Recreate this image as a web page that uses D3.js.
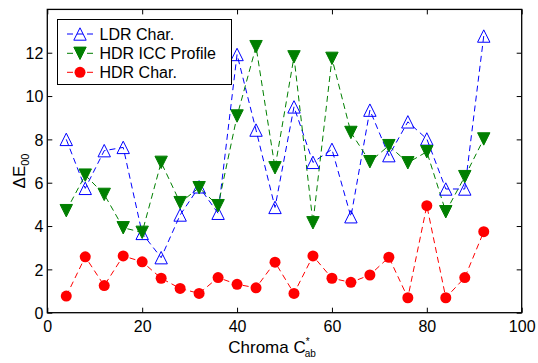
<!DOCTYPE html>
<html><head><meta charset="utf-8">
<script src="https://cdn.jsdelivr.net/npm/d3@7"></script>
<style>
html,body{margin:0;padding:0;background:#fff;}
svg{display:block;font-family:"Liberation Sans",Arial,sans-serif;}
</style></head><body>
<svg id="c" width="538" height="363"></svg>
<script>
const chroma = [4,8,12,16,20,24,28,32,36,40,44,48,52,56,60,64,68,72,76,80,84,88,92];
const ldrChar = [8.0,5.74,7.48,7.63,3.66,2.54,4.51,5.81,4.59,11.92,8.43,4.86,9.5,6.94,7.54,4.43,9.35,7.25,8.81,8.02,5.71,5.71,12.77];
const hdrIcc = [4.71,6.35,5.46,3.92,3.71,6.94,5.08,5.77,4.94,9.08,12.28,6.69,11.81,4.15,11.74,8.32,6.97,7.71,6.92,7.43,4.66,6.28,8.02];
const hdrChar = [0.77,2.58,1.25,2.62,2.35,1.59,1.12,0.89,1.62,1.31,1.15,2.33,0.89,2.62,1.59,1.40,1.74,2.56,0.69,4.94,0.69,1.62,3.74];
const xTicks = [0,20,40,60,80,100];
const yTicks = [0,2,4,6,8,10,12];
const seriesNames = ["LDR Char.","HDR ICC Profile","HDR Char."];

const svg = d3.select("#c");
const L=47.3, R=521.7, T=9.4, B=312.7;
const x = d3.scaleLinear().domain([0,100]).range([L,R]);
const y = d3.scaleLinear().domain([0,14]).range([B,T]);

const series = [
  {name:seriesNames[0], vals:ldrChar, color:"#0000ff", marker:"up"},
  {name:seriesNames[1], vals:hdrIcc, color:"#007f00", marker:"down"},
  {name:seriesNames[2], vals:hdrChar, color:"#ff0000", marker:"circle"}
];

function drawMarker(g, s, cx, cy){
  if(s.marker==="circle"){
    g.append("circle").attr("cx",cx).attr("cy",cy).attr("r",5.5).attr("fill",s.color);
  } else if(s.marker==="up"){
    const h=6.2;
    g.append("path").attr("d",`M${cx},${cy-h}L${cx+h},${cy+h}L${cx-h},${cy+h}Z`)
      .attr("fill","none").attr("stroke",s.color).attr("stroke-width",1);
  } else {
    const h=6.2;
    g.append("path").attr("d",`M${cx},${cy+h}L${cx+h},${cy-h}L${cx-h},${cy-h}Z`)
      .attr("fill",s.color).attr("stroke",s.color).attr("stroke-width",1);
  }
}

// axes
const fs = 16;
const axB = svg.append("g").attr("transform",`translate(0,${B})`)
  .call(d3.axisBottom(x).tickValues(xTicks).tickSizeInner(-5).tickSizeOuter(0).tickPadding(4).tickFormat(d3.format("d")));
const axT = svg.append("g").attr("transform",`translate(0,${T})`)
  .call(d3.axisTop(x).tickValues(xTicks).tickSizeInner(-5).tickSizeOuter(0).tickFormat(""));
const axLft = svg.append("g").attr("transform",`translate(${L},0)`)
  .call(d3.axisLeft(y).tickValues(yTicks).tickSizeInner(-5).tickSizeOuter(0).tickPadding(4).tickFormat(d3.format("d")));
const axRt = svg.append("g").attr("transform",`translate(${R},0)`)
  .call(d3.axisRight(y).tickValues(yTicks).tickSizeInner(-5).tickSizeOuter(0).tickFormat(""));
[axB,axT,axLft,axRt].forEach(a=>{
  a.select(".domain").remove();
  a.selectAll("line").attr("stroke","#000").attr("stroke-width",1);
  a.selectAll("text").attr("font-size",fs).attr("fill","#000").attr("font-family","Liberation Sans, Arial, sans-serif");
});
axB.selectAll("text").attr("dy","0.95em");
axLft.selectAll("text").attr("dy","0.36em");

// series
series.forEach(s=>{
  const line = d3.line().x((d,i)=>x(chroma[i])).y(d=>y(d));
  svg.append("path").datum(s.vals).attr("d",line).attr("fill","none")
    .attr("stroke",s.color).attr("stroke-width",1).attr("stroke-dasharray","6,4");
});
series.forEach(s=>{
  const g = svg.append("g");
  s.vals.forEach((v,i)=>drawMarker(g,s,x(chroma[i]),y(v)));
});

// box
svg.append("rect").attr("x",L).attr("y",T).attr("width",R-L).attr("height",B-T)
  .attr("fill","none").attr("stroke","#000").attr("stroke-width",1.3);

// legend
const lg = svg.append("g");
lg.append("rect").attr("x",57.5).attr("y",19.5).attr("width",174).attr("height",65)
  .attr("fill","#fff").attr("stroke","#000").attr("stroke-width",1);
const rows=[34,53.3,72.3];
series.forEach((s,i)=>{
  lg.append("line").attr("x1",66).attr("x2",94).attr("y1",rows[i]).attr("y2",rows[i])
    .attr("stroke",s.color).attr("stroke-width",1).attr("stroke-dasharray","6,4").attr("stroke-dashoffset",-1);
  drawMarker(lg,s,80,rows[i]);
  lg.append("text").attr("x",99.5).attr("y",rows[i]).attr("dy","0.36em")
    .attr("font-size",fs).attr("fill","#000").text(s.name);
});

// axis labels
const xl = svg.append("text").attr("x",272).attr("y",353).attr("text-anchor","middle")
  .attr("font-size",17).attr("fill","#000");
xl.append("tspan").text("Chroma C");
xl.append("tspan").attr("font-size",10).attr("dy",-8).text("*");
xl.append("tspan").attr("font-size",10).attr("dx",-5).attr("dy",12).text("ab");

const yl = svg.append("text").attr("transform","translate(25,171) rotate(-90)")
  .attr("text-anchor","middle").attr("font-size",17).attr("fill","#000");
yl.append("tspan").text("ΔE");
yl.append("tspan").attr("font-size",11).attr("dy",4).text("00");
</script>
</body></html>
